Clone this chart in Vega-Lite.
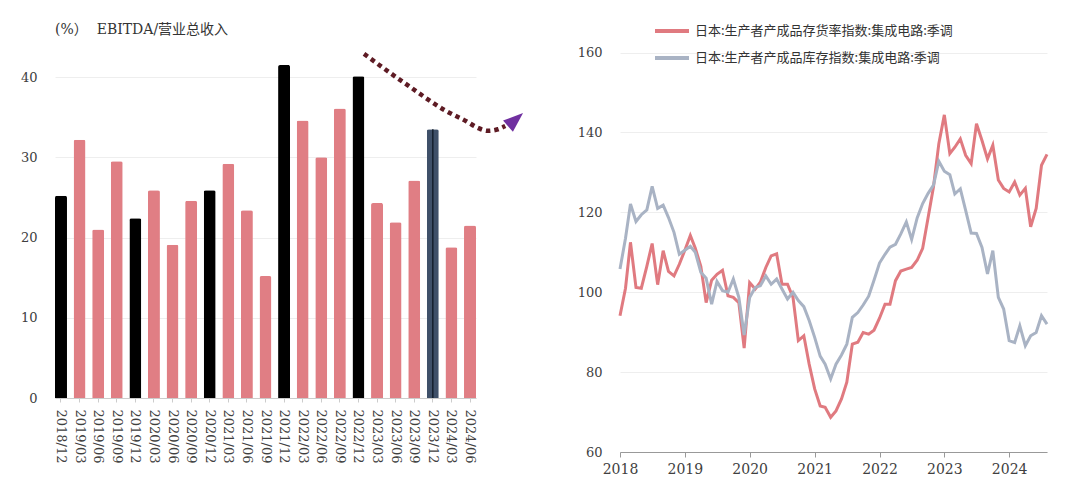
{
  "$schema": "https://vega.github.io/schema/vega-lite/v6.json",
  "background": "white",
  "padding": {"left": 20, "top": 12, "right": 5, "bottom": 5},
  "spacing": 53,
  "config": {
    "font": "DejaVu Serif, Noto Sans CJK SC",
    "view": {"stroke": null},
    "axis": {"labelFont": "DejaVu Serif", "labelColor": "#404040", "labelFontSize": 13, "gridColor": "#eeeeee", "title": null}
  },
  "resolve": {"scale": {"color": "independent"}, "legend": {"color": "independent"}},
  "hconcat": [
    {
      "width": 421,
      "height": 361,
      "title": {"text": "(%）\u00a0\u00a0EBITDA/营业总收入", "anchor": "start", "frame": "group", "fontSize": 14, "fontWeight": "normal", "color": "#333333", "font": "DejaVu Serif, Noto Sans CJK SC", "offset": 0},
      "layer": [
        {
          "data": {"values": [
            {"period": "2018/12", "value": 25.2, "kind": "annual"},
            {"period": "2019/03", "value": 32.2, "kind": "quarterly"},
            {"period": "2019/06", "value": 21.0, "kind": "quarterly"},
            {"period": "2019/09", "value": 29.5, "kind": "quarterly"},
            {"period": "2019/12", "value": 22.4, "kind": "annual"},
            {"period": "2020/03", "value": 25.9, "kind": "quarterly"},
            {"period": "2020/06", "value": 19.1, "kind": "quarterly"},
            {"period": "2020/09", "value": 24.6, "kind": "quarterly"},
            {"period": "2020/12", "value": 25.9, "kind": "annual"},
            {"period": "2021/03", "value": 29.2, "kind": "quarterly"},
            {"period": "2021/06", "value": 23.4, "kind": "quarterly"},
            {"period": "2021/09", "value": 15.2, "kind": "quarterly"},
            {"period": "2021/12", "value": 41.5, "kind": "annual"},
            {"period": "2022/03", "value": 34.6, "kind": "quarterly"},
            {"period": "2022/06", "value": 30.0, "kind": "quarterly"},
            {"period": "2022/09", "value": 36.1, "kind": "quarterly"},
            {"period": "2022/12", "value": 40.1, "kind": "annual"},
            {"period": "2023/03", "value": 24.3, "kind": "quarterly"},
            {"period": "2023/06", "value": 21.9, "kind": "quarterly"},
            {"period": "2023/09", "value": 27.1, "kind": "quarterly"},
            {"period": "2023/12", "value": 33.5, "kind": "latest"},
            {"period": "2024/03", "value": 18.8, "kind": "quarterly"},
            {"period": "2024/06", "value": 21.5, "kind": "quarterly"}
          ]},
          "encoding": {
            "x": {"field": "period", "type": "ordinal", "sort": null,
              "scale": {"paddingInner": 0.355, "paddingOuter": 0},
              "axis": {"labelAngle": 90, "labelAlign": "left", "labelBaseline": "middle", "domainColor": "#cccccc", "tickColor": "#cccccc", "tickSize": 4, "labelPadding": 7, "grid": false, "labelFontSize": 13}},
            "y": {"field": "value", "type": "quantitative",
              "scale": {"domain": [0, 45], "nice": false},
              "axis": {"values": [0, 10, 20, 30, 40], "domain": false, "ticks": false, "labelPadding": 18}}
          },
          "layer": [
            {
              "mark": {"type": "bar", "cornerRadiusTopLeft": 2, "cornerRadiusTopRight": 2},
              "encoding": {
                "color": {"field": "kind", "type": "nominal", "scale": {"domain": ["annual", "quarterly", "latest"], "range": ["#000000", "#E07E84", "#3F5069"]}, "legend": null}
              }
            },
            {
              "transform": [{"filter": "datum.kind == 'latest'"}],
              "mark": {"type": "rule", "color": "#15202e", "strokeWidth": 1.5},
              "encoding": {"y2": {"datum": 0}}
            }
          ]
        },
        {
          "data": {"values": [
            {"position": 16.3, "level": 42.9},
            {"position": 18.7, "level": 38.9},
            {"position": 20.7, "level": 35.8},
            {"position": 21.8, "level": 34.5},
            {"position": 22.4, "level": 33.7},
            {"position": 22.95, "level": 33.3},
            {"position": 23.5, "level": 33.5},
            {"position": 23.9, "level": 33.9}
          ]},
          "mark": {"type": "line", "interpolate": "monotone", "strokeDash": [4.5, 4], "strokeWidth": 4.5, "color": "#5E1B24", "clip": false},
          "encoding": {
            "x": {"field": "position", "type": "quantitative", "scale": {"domain": [-0.3228, 22.324], "nice": false, "zero": false}, "axis": null},
            "y": {"field": "level", "type": "quantitative"}
          }
        },
        {
          "data": {"values": [{"position": 24.45, "level": 34.7}]},
          "mark": {"type": "point", "shape": "M -1 -0.75 L 1 0 L -1 0.75 Z", "filled": true, "color": "#7030A0", "opacity": 1, "size": 400, "angle": -41, "clip": false},
          "encoding": {
            "x": {"field": "position", "type": "quantitative", "scale": {"domain": [-0.3228, 22.324], "nice": false, "zero": false}, "axis": null},
            "y": {"field": "level", "type": "quantitative"}
          }
        }
      ],
      "resolve": {"scale": {"x": "independent"}, "axis": {"x": "independent"}}
    },
    {
      "width": 427,
      "height": 415,
      "data": {"values": [
        {"month": "2018/01/01", "rate": 94.1, "stock": 105.8},
        {"month": "2018/02/01", "rate": 101.0, "stock": 113.5},
        {"month": "2018/03/01", "rate": 112.5, "stock": 122.1},
        {"month": "2018/04/01", "rate": 101.2, "stock": 117.7},
        {"month": "2018/05/01", "rate": 101.0, "stock": 119.4},
        {"month": "2018/06/01", "rate": 106.5, "stock": 120.6},
        {"month": "2018/07/01", "rate": 112.2, "stock": 126.5},
        {"month": "2018/08/01", "rate": 101.9, "stock": 121.0},
        {"month": "2018/09/01", "rate": 110.4, "stock": 121.8},
        {"month": "2018/10/01", "rate": 105.2, "stock": 118.7},
        {"month": "2018/11/01", "rate": 104.1, "stock": 115.0},
        {"month": "2018/12/01", "rate": 107.0, "stock": 109.5},
        {"month": "2019/01/01", "rate": 110.5, "stock": 110.5},
        {"month": "2019/02/01", "rate": 114.2, "stock": 111.5},
        {"month": "2019/03/01", "rate": 111.0, "stock": 110.0},
        {"month": "2019/04/01", "rate": 106.5, "stock": 105.0},
        {"month": "2019/05/01", "rate": 97.4, "stock": 103.5},
        {"month": "2019/06/01", "rate": 103.0, "stock": 97.0},
        {"month": "2019/07/01", "rate": 104.5, "stock": 102.7},
        {"month": "2019/08/01", "rate": 105.5, "stock": 100.4},
        {"month": "2019/09/01", "rate": 99.1, "stock": 100.0},
        {"month": "2019/10/01", "rate": 98.7, "stock": 103.3},
        {"month": "2019/11/01", "rate": 97.4, "stock": 98.7},
        {"month": "2019/12/01", "rate": 86.0, "stock": 89.3},
        {"month": "2020/01/01", "rate": 102.4, "stock": 98.7},
        {"month": "2020/02/01", "rate": 100.8, "stock": 101.2},
        {"month": "2020/03/01", "rate": 102.5, "stock": 101.6},
        {"month": "2020/04/01", "rate": 106.2, "stock": 104.1},
        {"month": "2020/05/01", "rate": 109.1, "stock": 102.0},
        {"month": "2020/06/01", "rate": 109.6, "stock": 103.3},
        {"month": "2020/07/01", "rate": 102.0, "stock": 100.8},
        {"month": "2020/08/01", "rate": 102.0, "stock": 98.3},
        {"month": "2020/09/01", "rate": 98.7, "stock": 100.0},
        {"month": "2020/10/01", "rate": 87.9, "stock": 97.9},
        {"month": "2020/11/01", "rate": 89.1, "stock": 96.4},
        {"month": "2020/12/01", "rate": 82.0, "stock": 92.9},
        {"month": "2021/01/01", "rate": 75.8, "stock": 88.7},
        {"month": "2021/02/01", "rate": 71.5, "stock": 84.0},
        {"month": "2021/03/01", "rate": 71.2, "stock": 82.0},
        {"month": "2021/04/01", "rate": 68.7, "stock": 78.3},
        {"month": "2021/05/01", "rate": 70.3, "stock": 82.0},
        {"month": "2021/06/01", "rate": 73.3, "stock": 84.3},
        {"month": "2021/07/01", "rate": 77.5, "stock": 87.0},
        {"month": "2021/08/01", "rate": 87.0, "stock": 93.7},
        {"month": "2021/09/01", "rate": 87.5, "stock": 94.9},
        {"month": "2021/10/01", "rate": 89.9, "stock": 96.8},
        {"month": "2021/11/01", "rate": 89.5, "stock": 99.0},
        {"month": "2021/12/01", "rate": 90.5, "stock": 103.0},
        {"month": "2022/01/01", "rate": 93.5, "stock": 107.3},
        {"month": "2022/02/01", "rate": 97.0, "stock": 109.5},
        {"month": "2022/03/01", "rate": 97.0, "stock": 111.3},
        {"month": "2022/04/01", "rate": 102.9, "stock": 112.0},
        {"month": "2022/05/01", "rate": 105.3, "stock": 114.6},
        {"month": "2022/06/01", "rate": 105.8, "stock": 117.6},
        {"month": "2022/07/01", "rate": 106.2, "stock": 113.2},
        {"month": "2022/08/01", "rate": 108.0, "stock": 118.6},
        {"month": "2022/09/01", "rate": 111.0, "stock": 122.2},
        {"month": "2022/10/01", "rate": 118.5, "stock": 124.7},
        {"month": "2022/11/01", "rate": 126.4, "stock": 126.8},
        {"month": "2022/12/01", "rate": 137.2, "stock": 132.8},
        {"month": "2023/01/01", "rate": 144.4, "stock": 130.3},
        {"month": "2023/02/01", "rate": 134.7, "stock": 129.4},
        {"month": "2023/03/01", "rate": 136.3, "stock": 124.6},
        {"month": "2023/04/01", "rate": 138.4, "stock": 125.9},
        {"month": "2023/05/01", "rate": 134.3, "stock": 120.5},
        {"month": "2023/06/01", "rate": 132.2, "stock": 114.8},
        {"month": "2023/07/01", "rate": 142.2, "stock": 114.7},
        {"month": "2023/08/01", "rate": 138.0, "stock": 111.2},
        {"month": "2023/09/01", "rate": 133.4, "stock": 104.6},
        {"month": "2023/10/01", "rate": 136.8, "stock": 110.4},
        {"month": "2023/11/01", "rate": 128.1, "stock": 98.7},
        {"month": "2023/12/01", "rate": 126.0, "stock": 95.8},
        {"month": "2024/01/01", "rate": 125.1, "stock": 87.9},
        {"month": "2024/02/01", "rate": 127.6, "stock": 87.4},
        {"month": "2024/03/01", "rate": 124.3, "stock": 91.6},
        {"month": "2024/04/01", "rate": 126.0, "stock": 86.6},
        {"month": "2024/05/01", "rate": 116.4, "stock": 89.1},
        {"month": "2024/06/01", "rate": 121.0, "stock": 89.9},
        {"month": "2024/07/01", "rate": 131.8, "stock": 94.1},
        {"month": "2024/08/01", "rate": 134.5, "stock": 92.0}
      ]},
      "transform": [{"fold": ["rate", "stock"], "as": ["series", "index"]}],
      "mark": {"type": "line", "strokeWidth": 3, "interpolate": "linear"},
      "encoding": {
        "x": {"field": "month", "type": "temporal",
          "scale": {"domain": [{"year": 2018, "month": 1, "date": 1}, {"year": 2024, "month": 8, "date": 1}], "nice": false},
          "axis": {"format": "%Y", "tickCount": {"interval": "year", "step": 1}, "grid": false, "domainColor": "#999999", "tickColor": "#999999", "tickSize": 5, "labelPadding": 5, "labelFontSize": 14, "labelFlush": false}},
        "y": {"field": "index", "type": "quantitative",
          "scale": {"domain": [60, 163.9], "nice": false, "zero": false},
          "axis": {"values": [60, 80, 100, 120, 140, 160], "domain": false, "ticks": false, "labelPadding": 18}},
        "color": {"field": "series", "type": "nominal",
          "scale": {"domain": ["rate", "stock"], "range": ["#E07A80", "#A9B3C4"]},
          "legend": {"orient": "none", "legendX": 33, "legendY": -25, "title": null, "symbolType": "stroke", "symbolSize": 1156, "symbolStrokeWidth": 4, "labelFontSize": 13, "labelFont": "Noto Sans CJK SC", "labelColor": "#333333", "labelOffset": 4, "rowPadding": -1, "padding": 0, "labelLimit": 400,
            "labelExpr": "datum.value == 'rate' ? '日本:生产者产成品存货率指数:集成电路:季调' : '日本:生产者产成品库存指数:集成电路:季调'"}}
      }
    }
  ]
}
